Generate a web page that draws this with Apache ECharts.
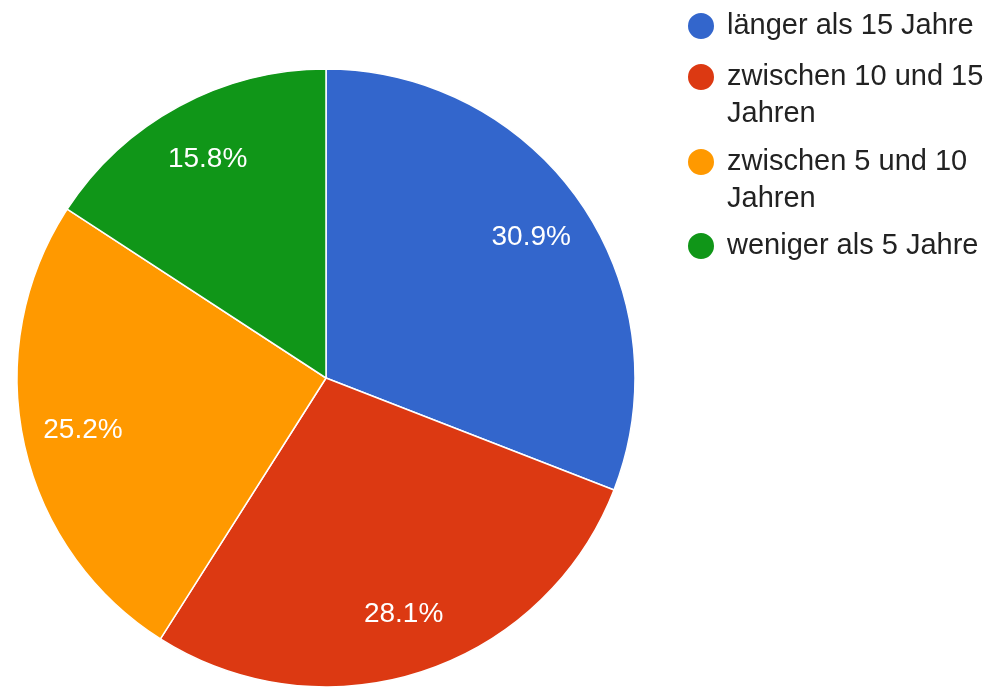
<!DOCTYPE html>
<html>
<head>
<meta charset="utf-8">
<script src="https://cdn.jsdelivr.net/npm/echarts@6/dist/echarts.min.js"></script>
<style>
  html, body { margin: 0; padding: 0; background: #fff; }
  #chart { width: 994px; height: 687px; }
</style>
</head>
<body>
<div id="chart"></div>
<script>
// Wie lange schon dabei? – Anteile in Prozent
const categories = ['länger als 15 Jahre', 'zwischen 10 und 15 Jahren', 'zwischen 5 und 10 Jahren', 'weniger als 5 Jahre'];
const shares = [30.9, 28.1, 25.2, 15.8];
const colors = ['#3366cc', '#dc3912', '#ff9900', '#109618'];

const pieCenter = [326, 378];
const pieRadius = 309;
const labelRing = 0.795;   // labels sit at this fraction of the radius
const fontFamily = 'Arial, "Liberation Sans", sans-serif';

const data = categories.map((name, i) => ({ name, value: shares[i], itemStyle: { color: colors[i] } }));

// One legend block per entry. Wrapped names get a taller item whose dot
// is drawn level with the first text line.
const legendLine = 37;
const dotR = 14;
const legendFirstLine = [26, 76, 161, 246];
const wrapped = [false, true, true, false];

function topDotIcon(lines) {
  const h = legendLine * lines;
  const cy = h / 2 - legendLine * (lines - 1) / 2;
  const d = dotR * 2;
  return 'path://M0,0 M' + d + ',' + h +
    ' M0,' + cy + ' A' + dotR + ',' + dotR + ' 0 1,1 ' + d + ',' + cy +
    ' A' + dotR + ',' + dotR + ' 0 1,1 0,' + cy + ' Z';
}

const legends = categories.map((name, i) => {
  const lines = wrapped[i] ? 2 : 1;
  return {
    data: [{ name, icon: lines > 1 ? topDotIcon(lines) : 'circle' }],
    left: 686,
    top: legendFirstLine[i] - legendLine / 2,
    padding: 0,
    orient: 'vertical',
    itemWidth: 42,
    itemHeight: lines > 1 ? legendLine * lines : dotR * 2,
    selectedMode: false,
    textStyle: {
      fontFamily,
      fontSize: 29,
      color: '#222',
      lineHeight: legendLine,
      width: 265,
      overflow: 'break'
    }
  };
});

const chart = echarts.init(document.getElementById('chart'), null, { renderer: 'canvas' });
chart.setOption({
  animation: false,
  backgroundColor: '#fff',
  legend: legends,
  series: [
    {
      type: 'pie',
      center: pieCenter,
      radius: [0, pieRadius],
      startAngle: 90,
      clockwise: true,
      silent: true,
      data,
      label: { show: false },
      labelLine: { show: false },
      itemStyle: { borderColor: '#fff', borderWidth: 1.5 }
    },
    {
      // transparent disc that carries the percentage labels
      type: 'pie',
      center: pieCenter,
      radius: [0, pieRadius * labelRing * 2],
      startAngle: 90,
      clockwise: true,
      silent: true,
      z: 3,
      data: data.map(d => ({ name: d.name, value: d.value, itemStyle: { color: 'rgba(0,0,0,0)' } })),
      itemStyle: { borderWidth: 0 },
      label: {
        show: true,
        position: 'inner',
        formatter: p => p.value.toFixed(1) + '%',
        color: '#fff',
        fontFamily,
        fontSize: 28
      },
      labelLine: { show: false }
    }
  ]
});
</script>
</body>
</html>
